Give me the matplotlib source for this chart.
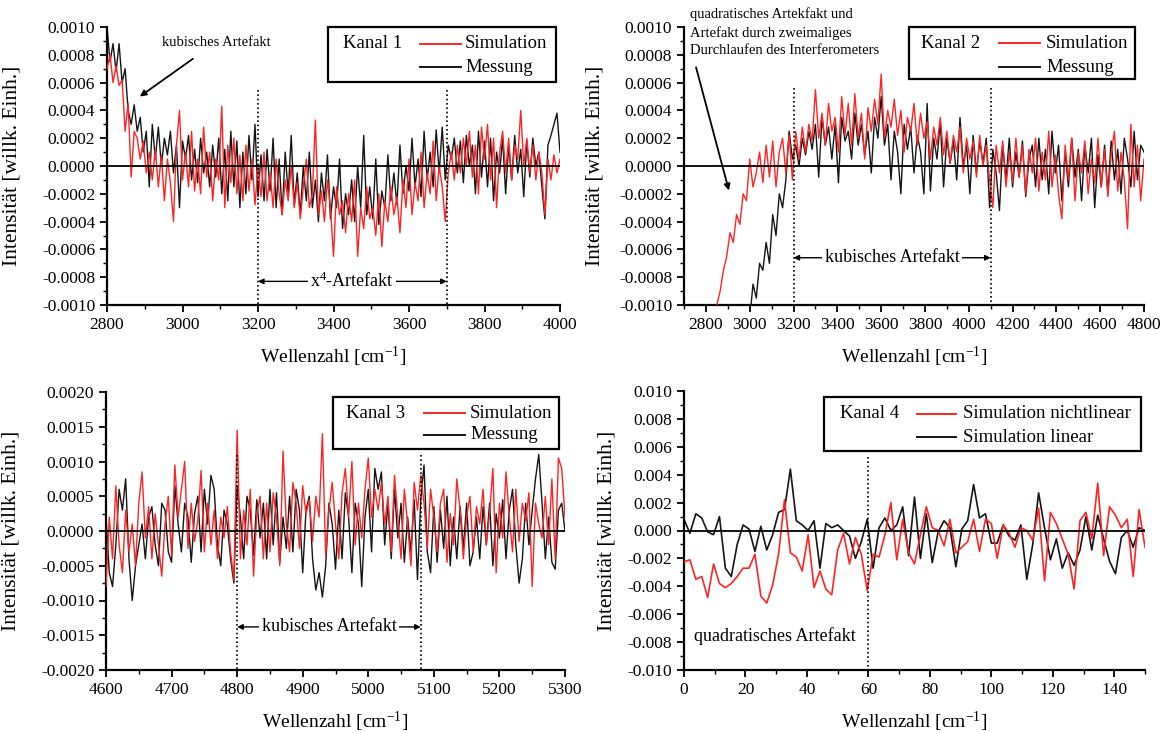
import numpy as np
import matplotlib
matplotlib.use("Agg")
import matplotlib.pyplot as plt
from matplotlib.ticker import MultipleLocator, FuncFormatter
from matplotlib.patches import Rectangle
from matplotlib.lines import Line2D

plt.rcParams['font.family'] = ['Liberation Serif', 'DejaVu Serif']
plt.rcParams['mathtext.fontset'] = 'custom'
plt.rcParams['mathtext.rm'] = 'Liberation Serif'
plt.rcParams['mathtext.it'] = 'Liberation Serif:italic'
plt.rcParams['axes.unicode_minus'] = False

# ---------------- data (intensities in units of 1e-5) ----------------
k1_x_start, k1_x_step = 2800, 8
k1_messung = [100, 75, 88, 68, 88, 60, 70, 40, 30, 44,
              25, 35, 10, 25, -15, 30, 5, 28, 0, 20,
              8, 25, -5, 15, -30, 18, 5, 22, -10, 12,
              -12, 20, -5, 10, -15, 15, -8, 20, -20, 12,
              -25, 25, -15, 18, -30, 10, -20, 22, -10, 30,
              -22, 8, -25, 12, -18, 20, -30, 5, -35, 10,
              -20, 22, -28, -5, -35, 0, -25, 10, -30, -10,
              -40, -5, -25, 8, -38, -15, -30, 5, -45, -20,
              -35, -10, -40, 0, -30, 22, -35, -15, -38, 5,
              -42, -18, -30, 8, -25, -5, -28, 15, -20, 0,
              -18, 20, -15, 5, -22, 25, -10, 10, -15, 26,
              -5, 28, -10, 15, 5, 20, -5, 18, -12, 22,
              0, 15, -20, 25, -8, 18, -15, 20, -25, 10,
              -5, 20, -20, 15, -10, 22, -5, 12, -22, 18,
              -8, 20, 0, 10, -15, -38, 15, 22, 30, 38, 10]
k1_simulation = [70, 80, 60, 72, 58, 62, 25, 45, -8, 25,
                 20, 5, 18, -5, 10, -10, 12, -15, 8, -25,
                 5, -12, -40, 15, 40, -10, 10, -15, 25, -18,
                 5, -20, 28, -8, 10, -25, 5, -10, 43, -30,
                 15, -12, 20, -20, 8, -25, 15, -18, 5, -28,
                 0, -22, 10, -25, -5, -30, 5, -20, -35, -10,
                 -25, 0, -30, -12, -38, -15, 5, -30, -20, 33,
                 -35, -18, -40, -10, -30, -65, -15, -35, -25, -48,
                 -20, -40, -10, -65, -30, -45, -15, -38, -30, -50,
                 -20, -58, -25, -40, -15, -35, -22, -48, -10, -30,
                 5, -35, -12, -25, 10, -30, -5, -20, 18, -25,
                 0, -15, -40, -5, 10, -10, 15, -5, 20, 0,
                 25, -8, 15, -20, 28, 5, 30, -10, 20, -30,
                 10, 25, -5, 20, -10, 15, 5, 40, 0, 20,
                 -5, 15, -10, 10, -5, -35, 5, -10, 8, -5, 5]

k2_sim_start, k2_mess_start, k2_step = 2850, 3000, 15
k2_simulation = [-100, -90, -75, -65, -48, -55, -35, -42, -20, -25,
                 5, -15, -5, 10, -12, 15, -8, 18, -15, 10,
                 20, -5, 22, -10, 25, 5, 28, 10, 30, 18,
                 55, 20, 38, 15, 45, 25, 35, 10, 50, 22,
                 45, 15, 52, 20, 38, 5, 42, 25, 48, 30,
                 66, 20, 40, 28, 48, 22, 40, 10, 35, 25,
                 45, 15, 38, 20, 32, 5, 28, 15, 35, 8,
                 25, 2, 22, 10, 28, -5, 20, 5, 18, -8,
                 22, 0, 15, -10, -30, 15, -5, 18, -15, 10,
                 -12, 20, -8, 15, -20, 12, -5, 20, -18, 10,
                 -10, 25, -15, 8, -20, -38, 15, -10, 20, -25,
                 10, -5, 18, -20, 5, -12, 20, -15, 12, -22,
                 8, 25, -18, 10, -10, -45, 30, -15, 15, -25,
                 5]
k2_messung = [-110, -85, -95, -70, -75, -55, -70, -35, -50, -20,
              -30, -10, 25, 5, 15, 0, 20, 8, 25, 12,
              30, -8, 35, 15, 28, 5, 30, -12, 35, 18,
              25, 5, 38, 15, 30, 8, 25, -5, 35, 20,
              50, 15, 30, -10, 25, 10, -20, 30, 12, 28,
              -5, 22, 10, -20, 45, -18, 20, 5, 32, -15,
              20, 2, 18, -10, 35, 0, 15, -20, 22, -5,
              18, 2, 20, -30, 12, -5, -32, 15, -10, 20,
              -15, 10, -8, 18, -22, 5, 15, -15, 20, -10,
              12, -20, 25, -5, 15, -25, 10, -15, 20, -8,
              12, -25, 15, -5, 20, -30, 8, -15, 15, -20,
              18, -10, 12, -20, 20, 5, -15, 25, -10, 15,
              10]

k3_x_start, k3_x_step = 4600, 5
k3_messung = [20, -60, -80, -20, 60, 30, 75, -40, -100, -50,
              -20, 10, -40, 20, 35, -20, -50, 40, 30, -30,
              -45, 65, 10, -30, 40, 20, -45, 25, 50, -30,
              60, 10, 80, 60, -20, -50, 30, 10, -40, -75,
              65, 20, -40, 50, 30, -35, 45, -10, 40, -40,
              60, -20, 55, -45, 20, -25, 50, -30, 60, 30,
              -60, 30, 50, -40, -85, -60, -95, -50, 40, 10,
              -55, 30, -40, 55, 20, -60, 40, 10, -80, 20,
              60, -30, 90, 60, 85, -20, 40, -40, 60, -10,
              40, -45, 20, -30, 45, -70, 45, 95, -30, -60,
              35, -45, 30, -25, 50, -50, 20, -40, 35, -25,
              40, -50, -30, 20, -40, 35, -20, 40, -50, 25,
              -10, 45, -40, 30, 60, -20, -75, -40, 40, -20,
              30, 75, 110, 40, -40, 20, -45, -55, 30, 40, 0]
k3_simulation = [-80, 20, -40, 65, -20, -60, 30, -30, 10, -50,
                 40, 85, -10, 35, -40, 25, -20, -65, 10, 50,
                 -35, 95, 20, 60, 100, -25, 40, -15, 15, 87,
                 -30, 40, -20, 30, -40, 20, -10, 35, -30, -70,
                 145, -40, 30, -20, 60, -65, 25, 50, -40, 40,
                 -30, 55, 20, -50, 115, 10, -30, 70, 40, -25,
                 65, 25, 45, -15, 50, 20, 140, -35, 30, 70,
                 10, -40, 55, 90, 20, 100, -20, 40, -10, 60,
                 105, 20, 60, 30, 70, 10, 50, -30, 80, 20,
                 -40, 60, 10, -50, 70, 30, 80, 40, -25, 60,
                 20, -30, 40, 60, -45, 25, -20, 75, 30, -40,
                 20, 50, -30, 35, 10, 60, -20, 25, 90, -60,
                 40, -10, 85, 20, -30, 60, -15, 40, 15, 55,
                 -80, 40, 10, -10, 50, -20, 75, -40, 105, 90, 20]

k4_x_max = 150
k4_nichtlinear = [-22.5, -21, -35, -33, -48, -24, -38, -41, -38, -33,
                  -27, -27, -17, -47, -52, -39, -17, 22, -16, -19,
                  -29, -3, -41, -29, -42, -46, -14, -2, -24, -5,
                  -17, -43, -17, -19, -3, 20, -21, 8, -16, -24,
                  -3, 17, 2, 0, -11, 8, -16, -12, -8, 8,
                  -15, 8, 5, -20, 4, -2, -12, 2, 0, -7,
                  16, -36, 13, 5, -6, -17, -42, 7, 13, -6,
                  34, -18, 17, 11, 2, 8, -33, 15, -12]
k4_linear = [8, -2, 12, 9, -1, -3, 10, -27, -33, -10,
             4, 1, -15, 3, -14, -3, 13, 15, 44, 7,
             4, 0, 7, -27, 5, 2, 4, 0, -4, -20,
             -8, 8, -27, 2, 9, 0, 4, 17, -18, 24,
             -20, 12, -23, -1, 7, 2, -26, 1, 7, 33,
             9, 12, -9, -9, 4, -4, -7, 4, -35, -10,
             27, 2, -21, -6, -27, -16, -25, -14, 10, -14,
             11, -6, -22, -31, -5, 0, -12, 2, 0]

# ---------------- figure ----------------
W, H = 1164, 733
fig = plt.figure(figsize=(W / 100, H / 100), dpi=100)

RED = '#ff2424'
BLK = '#151515'


def ax_px(l, t, r, b):
    return fig.add_axes([l / W, 1 - b / H, (r - l) / W, (b - t) / H])


def fmt(nd):
    def f(v, pos):
        v = round(v, 8) + 0.0
        if abs(v) < 1e-12:
            v = 0.0
        return f"{v:.{nd}f}"
    return FuncFormatter(f)


def style(ax, xlim, ylim, xmaj, xmin, ymaj, ymin, nd, ylab_x):
    ax.set_xlim(*xlim)
    ax.set_ylim(*ylim)
    ax.xaxis.set_major_locator(MultipleLocator(xmaj))
    ax.xaxis.set_minor_locator(MultipleLocator(xmin))
    ax.yaxis.set_major_locator(MultipleLocator(ymaj))
    ax.yaxis.set_minor_locator(MultipleLocator(ymin))
    ax.yaxis.set_major_formatter(fmt(nd))
    for s in ('top', 'right'):
        ax.spines[s].set_visible(False)
    for s in ('left', 'bottom'):
        ax.spines[s].set_linewidth(1.6)
    ax.tick_params(which='major', direction='out', length=5, width=1.3, labelsize=12.5)
    ax.tick_params(which='minor', direction='out', length=3, width=1.0)
    ax.axhline(0, color='k', lw=1.3, zorder=4)
    ax.set_xlabel('Wellenzahl [cm$^{-1}$]', fontsize=14)
    ax.set_ylabel('Intensität [willk. Einh.]', fontsize=15.5)
    ax.xaxis.set_label_coords(0.5, -0.142)
    ax.yaxis.set_label_coords(ylab_x, 0.5)


def vdot(ax, x, ytop, ybot):
    ax.plot([x, x], [ytop, ybot], color='k', lw=1.2, ls=(0, (1, 1.6)), zorder=6)


def span_label(ax, x0, x1, y, text, fs=13):
    ax.annotate('', xy=(x0, y), xytext=(x1, y),
                arrowprops=dict(arrowstyle='<|-|>', color='k', lw=1.0,
                                shrinkA=0, shrinkB=0, mutation_scale=8), zorder=7)
    ax.text((x0 + x1) / 2, y, text, ha='center', va='center', fontsize=fs,
            bbox=dict(fc='white', ec='none', pad=1.5), zorder=8)


def legend_box(box, kanal_xy, line_x, rows_y, label_x, labels, colors):
    l, t, r, b = box
    fig.add_artist(Rectangle((l / W, 1 - b / H), (r - l) / W, (b - t) / H,
                             transform=fig.transFigure, fill=True, fc='white',
                             ec='k', lw=1.6, zorder=20))
    fig.text(kanal_xy[0] / W, 1 - kanal_xy[1] / H, kanal_xy[2], fontsize=13.5,
             ha='left', va='center', zorder=21)
    for yy, lab, c in zip(rows_y, labels, colors):
        fig.add_artist(Line2D([line_x[0] / W, line_x[1] / W], [1 - yy / H, 1 - yy / H],
                              transform=fig.transFigure, color=c, lw=1.4, zorder=21))
        fig.text(label_x / W, 1 - yy / H, lab, fontsize=13.5, ha='left',
                 va='center', zorder=21)


# ---- Kanal 1 ----
ax1 = ax_px(107, 27, 560, 305)
x1 = np.arange(len(k1_messung)) * k1_x_step + k1_x_start
ax1.plot(x1, np.array(k1_messung) * 1e-5, color=BLK, lw=1.0, zorder=2)
ax1.plot(x1, np.array(k1_simulation) * 1e-5, color=RED, lw=1.0, zorder=3)
style(ax1, (2800, 4000), (-0.001, 0.001), 200, 100, 0.0002, 0.0001, 4, -0.188)
vdot(ax1, 3200, 0.00055, -0.001)
vdot(ax1, 3700, 0.00055, -0.001)
span_label(ax1, 3200, 3700, -0.00083, 'x$^4$-Artefakt')
ax1.annotate('kubisches Artefakt', xy=(2887, 0.0005), xytext=(3089, 0.00089),
             ha='center', va='center', fontsize=10.5,
             arrowprops=dict(arrowstyle='-|>', color='k', lw=1.3,
                             mutation_scale=9, shrinkA=9, shrinkB=0))
legend_box((328, 27, 556, 82), (343, 44, 'Kanal 1'), (420, 461), (44, 67), 465,
           ('Simulation', 'Messung'), (RED, BLK))

# ---- Kanal 2 ----
ax2 = ax_px(684, 27, 1144, 305)
x2s = np.arange(len(k2_simulation)) * k2_step + k2_sim_start
x2m = np.arange(len(k2_messung)) * k2_step + k2_mess_start
ax2.plot(x2m, np.array(k2_messung) * 1e-5, color=BLK, lw=1.0, zorder=2)
ax2.plot(x2s, np.array(k2_simulation) * 1e-5, color=RED, lw=1.0, zorder=3)
style(ax2, (2700, 4800), (-0.001, 0.001), 200, 100, 0.0002, 0.0001, 4, -0.172)
vdot(ax2, 3200, 0.00056, -0.001)
vdot(ax2, 4100, 0.00056, -0.001)
span_label(ax2, 3200, 4100, -0.00066, 'kubisches Artefakt')
ax2.annotate('', xy=(2905, -0.000176), xytext=(2755, 0.00071),
             arrowprops=dict(arrowstyle='-|>', color='k', lw=1.3,
                             mutation_scale=9, shrinkA=0, shrinkB=0))
ax2.text(2727, 0.00114, 'quadratisches Artekfakt und\nArtefakt durch zweimaliges\n'
         'Durchlaufen des Interferometers', ha='left', va='top', fontsize=10.5,
         linespacing=1.45, clip_on=False)
legend_box((909, 27, 1135, 79), (921, 43, 'Kanal 2'), (999, 1040), (43, 67), 1046,
           ('Simulation', 'Messung'), (RED, BLK))

# ---- Kanal 3 ----
ax3 = ax_px(106, 392, 565, 670)
x3 = np.arange(len(k3_messung)) * k3_x_step + k3_x_start
ax3.plot(x3, np.array(k3_messung) * 1e-5, color=BLK, lw=1.0, zorder=2)
ax3.plot(x3, np.array(k3_simulation) * 1e-5, color=RED, lw=1.0, zorder=3)
style(ax3, (4600, 5300), (-0.002, 0.002), 100, 50, 0.0005, 0.00025, 4, -0.186)
vdot(ax3, 4800, 0.00109, -0.002)
vdot(ax3, 5080, 0.00109, -0.002)
span_label(ax3, 4800, 5080, -0.00138, 'kubisches Artefakt')
legend_box((333, 397, 559, 449), (346, 413, 'Kanal 3'), (424, 465), (413, 435), 470,
           ('Simulation', 'Messung'), (RED, BLK))

# ---- Kanal 4 ----
ax4 = ax_px(684, 391, 1145, 670)
x4 = np.linspace(0, k4_x_max, len(k4_linear))
ax4.plot(x4, np.array(k4_linear) * 1e-4, color=BLK, lw=1.2, zorder=2)
ax4.plot(x4, np.array(k4_nichtlinear) * 1e-4, color=RED, lw=1.2, zorder=3)
style(ax4, (0, 150), (-0.010, 0.010), 20, 10, 0.002, 0.001, 3, -0.146)
vdot(ax4, 60, 0.0053, -0.010)
ax4.text(29.5, -0.0076, 'quadratisches Artefakt', ha='center', va='center', fontsize=13)
legend_box((824, 397, 1141, 451), (840, 414, 'Kanal 4'), (917, 956), (414, 437), 963,
           ('Simulation nichtlinear', 'Simulation linear'), (RED, BLK))

fig.savefig('out.png', dpi=100)
